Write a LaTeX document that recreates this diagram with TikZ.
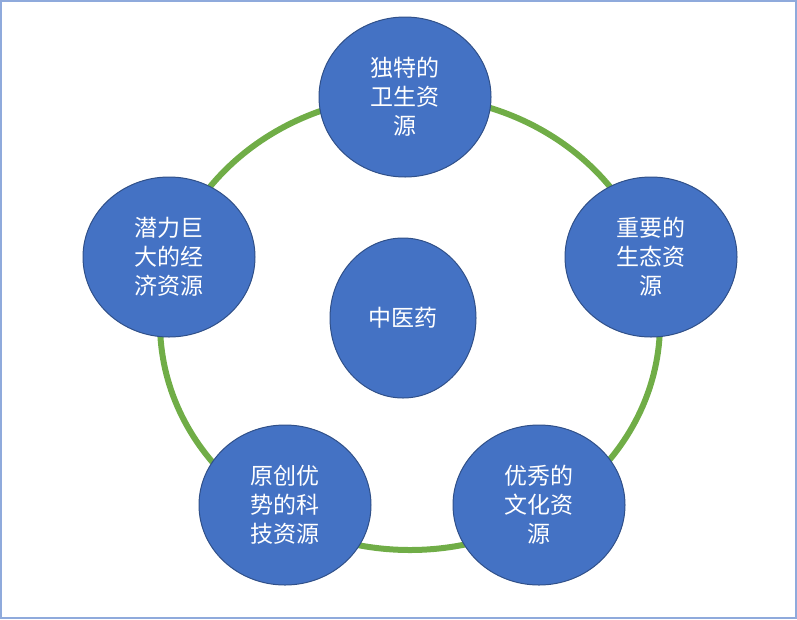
\documentclass[tikz,border=0pt]{standalone}
\usepackage{fontspec}
\setmainfont{Noto Sans CJK SC}
\begin{document}
\begin{tikzpicture}[x=1pt,y=-1pt,
  blob/.style={ellipse,draw=blob!70!black,line width=1pt,fill=blob,text=white,minimum width=172pt,minimum height=160pt,align=center,font=\fontsize{23}{29}\selectfont}]
\usetikzlibrary{shapes.geometric}
\definecolor{blob}{HTML}{4472C4}
\definecolor{ring}{HTML}{70AD47}
\definecolor{frame}{HTML}{8FAADC}
\useasboundingbox (0,0) rectangle (797,619);
\draw[frame,line width=2pt] (1,1) rectangle (796,618);
\draw[ring,line width=6pt] (410,323) ellipse [x radius=250,y radius=227];
\node[blob] (t) at (405,97) {独特的\\卫生资\\源};
\node[blob] (r) at (651,257) {重要的\\生态资\\源};
\node[blob] (br) at (539,505) {优秀的\\文化资\\源};
\node[blob] (bl) at (285,505) {原创优\\势的科\\技资源};
\node[blob] (l) at (169,257) {潜力巨\\大的经\\济资源};
\node[blob,minimum width=146pt] (c) at (403,318) {中医药};
\end{tikzpicture}
\end{document}
